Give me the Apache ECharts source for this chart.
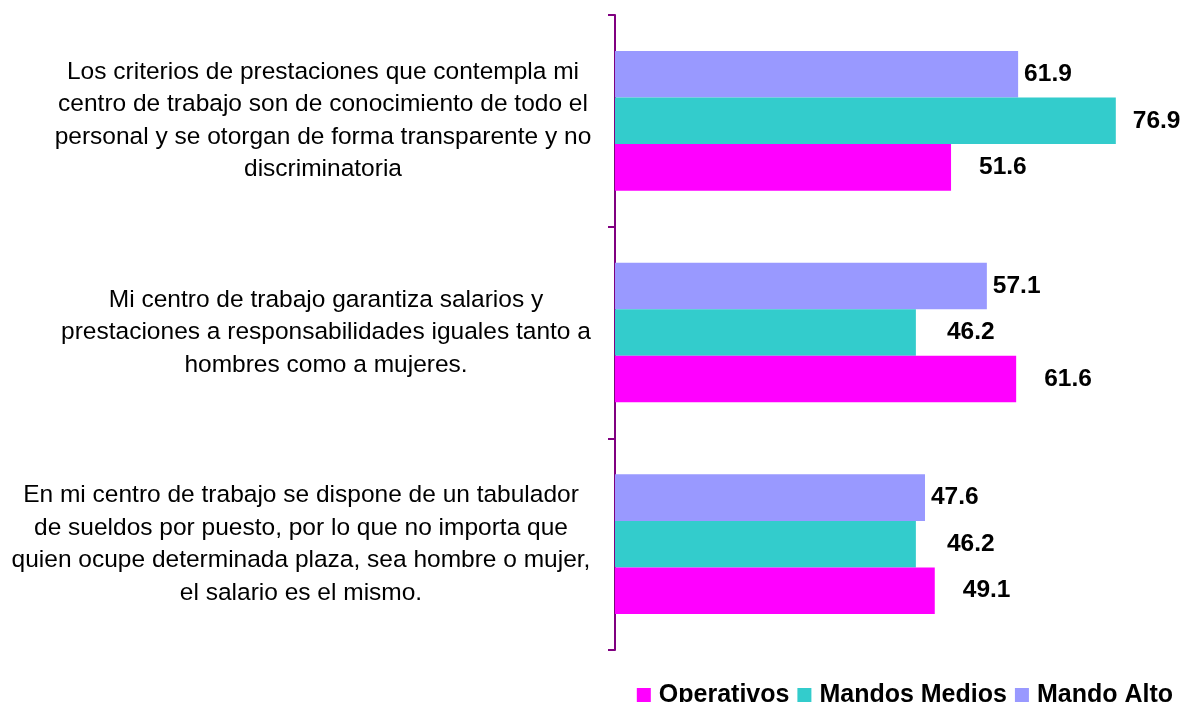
<!DOCTYPE html>
<html>
<head>
<meta charset="utf-8">
<script src="https://cdn.jsdelivr.net/npm/echarts@6/dist/echarts.min.js"></script>
<style>
  html, body { margin: 0; padding: 0; background: #fff; }
  #chart { width: 1185px; height: 702px; }
</style>
</head>
<body>
<div id="chart"></div>
<script>
// categories, bottom to top (category axis starts at the bottom)
var categories = [
  'En mi centro de trabajo se dispone de un tabulador\nde sueldos por puesto, por lo que no importa que\nquien ocupe determinada plaza, sea hombre o mujer,\nel salario es el mismo.',
  'Mi centro de trabajo garantiza salarios y\nprestaciones a responsabilidades iguales tanto a\nhombres como a mujeres.',
  'Los criterios de prestaciones que contempla mi\ncentro de trabajo son de conocimiento de todo el\npersonal y se otorgan de forma transparente y no\ndiscriminatoria'
];
var operativos = [49.1, 61.6, 51.6];
var mandosMedios = [46.2, 46.2, 76.9];
var mandoAlto = [47.6, 57.1, 61.9];

var font = 'Liberation Sans, Arial, sans-serif';

var chart = echarts.init(document.getElementById('chart'));

function barSeries(name, data, color, dist) {
  return {
    name: name,
    type: 'bar',
    // long bars get their label pulled in so it stays on the page
    data: data.map(function (v) {
      return v > 70 ? { value: v, label: { distance: 17 } } : v;
    }),
    barGap: '0%',
    barCategoryGap: '34%',
    itemStyle: { color: color },
    label: {
      show: true,
      position: 'right',
      distance: dist,
      color: '#000',
      fontFamily: font,
      fontWeight: 'bold',
      fontSize: 24.5,
      formatter: function (p) { return p.value.toFixed(1); }
    }
  };
}

var option = {
  animation: false,
  grid: { left: 615, top: 15, width: 521, bottom: 52 },
  legend: {
    data: ['Operativos', 'Mandos Medios', 'Mando Alto'],
    right: 7,
    top: 677,
    icon: 'rect',
    itemWidth: 14,
    itemHeight: 14,
    itemGap: 8,
    textStyle: {
      fontFamily: font,
      fontWeight: 'bold',
      fontSize: 25,
      color: '#000',
      lineHeight: 26,
      padding: [0, 0, 0, 3]
    }
  },
  xAxis: {
    type: 'value',
    min: 0,
    max: 80,
    show: false
  },
  yAxis: {
    type: 'category',
    data: categories,
    axisLine: { lineStyle: { color: '#800080', width: 2 } },
    axisTick: { show: true, length: 7, lineStyle: { color: '#800080', width: 2 } },
    axisLabel: {
      margin: 289,
      align: 'center',
      formatter: function (value, index) {
        return '{c' + index + '|' + value + '}';
      },
      rich: {
        c0: { fontFamily: font, fontSize: 24.5, lineHeight: 32.5, color: '#000', align: 'center', padding: [0, 50, 0, 0] },
        c1: { fontFamily: font, fontSize: 24.5, lineHeight: 32.5, color: '#000', align: 'center' },
        c2: { fontFamily: font, fontSize: 24.5, lineHeight: 32.5, color: '#000', align: 'center', padding: [0, 6, 0, 0] }
      }
    }
  },
  // first series sits at the top of each group
  series: [
    barSeries('Mando Alto', mandoAlto, '#9999FF', 6),
    barSeries('Mandos Medios', mandosMedios, '#33CCCC', 31),
    barSeries('Operativos', operativos, '#FF00FF', 28)
  ]
};

chart.setOption(option);
</script>
</body>
</html>
